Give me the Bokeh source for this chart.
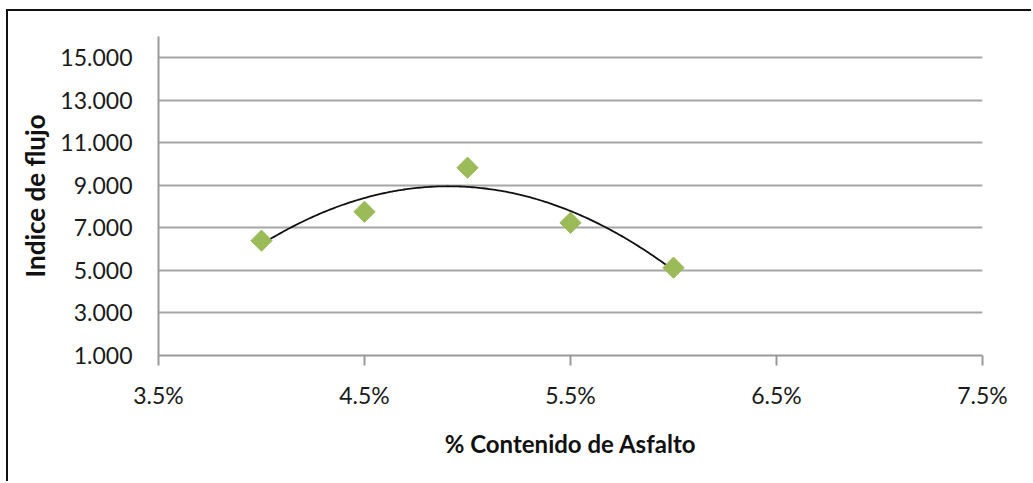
import numpy as np
from bokeh.plotting import figure
from bokeh.models import Range1d, FixedTicker, NumeralTickFormatter, CustomJSTickFormatter
from bokeh.embed import file_html
from bokeh.resources import INLINE

# Data
asphalt_pct = [0.040, 0.045, 0.050, 0.055, 0.060]
flow_index = [6.40, 7.76, 9.83, 7.24, 5.13]
x_ticks = [0.035, 0.045, 0.055, 0.065, 0.075]
y_ticks = [1, 3, 5, 7, 9, 11, 13, 15]

FONT = "Lato"

p = figure(width=1025, height=472, output_backend="svg", toolbar_location=None,
           x_range=Range1d(0.035, 0.075), y_range=Range1d(1, 16),
           min_border_left=150, min_border_right=51, min_border_top=25, min_border_bottom=128)
p.margin = (9, 0, 0, 6)
p.styles = {"border-top": "2px solid #111", "border-left": "2px solid #111"}
p.outline_line_color = None
p.background_fill_color = "white"
p.border_fill_color = "white"

# grid
p.xgrid.grid_line_color = None
p.ygrid.ticker = FixedTicker(ticks=y_ticks)
p.ygrid.grid_line_color = "#a6a6a6"
p.ygrid.grid_line_width = 2

# x axis
xa = p.xaxis[0]
xa.ticker = FixedTicker(ticks=x_ticks)
xa.formatter = NumeralTickFormatter(format="0.0%")
xa.axis_line_color = "#999999"
xa.axis_line_width = 2
xa.major_tick_line_color = "#999999"
xa.major_tick_line_width = 2
xa.major_tick_out = 10
xa.major_tick_in = 0
xa.minor_tick_line_color = None
xa.major_label_standoff = 15
xa.major_label_text_font = FONT
xa.major_label_text_font_size = "23px"
xa.major_label_text_color = "#1a1a1a"
xa.axis_label = "% Contenido de Asfalto"
xa.axis_label_text_font = FONT
xa.axis_label_text_font_style = "bold"
xa.axis_label_text_font_size = "24px"
xa.axis_label_text_color = "#111111"
xa.axis_label_standoff = 17

# y axis
ya = p.yaxis[0]
ya.ticker = FixedTicker(ticks=y_ticks)
ya.formatter = CustomJSTickFormatter(code="return tick.toFixed(3);")
ya.axis_line_color = "#999999"
ya.axis_line_width = 2
ya.major_tick_line_color = None
ya.minor_tick_line_color = None
ya.major_tick_out = 0
ya.major_tick_in = 0
ya.major_label_standoff = 26
ya.major_label_text_font = FONT
ya.major_label_text_font_size = "23px"
ya.major_label_text_color = "#1a1a1a"
ya.axis_label = "Indice de flujo"
ya.axis_label_text_font = FONT
ya.axis_label_text_font_style = "bold"
ya.axis_label_text_font_size = "26px"
ya.axis_label_text_color = "#111111"
ya.axis_label_standoff = 6

# polynomial (order 2) trendline fitted from the data
coef = np.polyfit(asphalt_pct, flow_index, 2)
xs = np.linspace(min(asphalt_pct), max(asphalt_pct), 200)
p.line(xs, np.polyval(coef, xs), line_color="#111111", line_width=1.8)

# markers (diamonds)
p.scatter(asphalt_pct, flow_index, marker="square", angle=np.pi / 4, size=15,
          fill_color="#9bbb59", line_color="#9bbb59")

open("out.html", "w").write(file_html(p, INLINE))
